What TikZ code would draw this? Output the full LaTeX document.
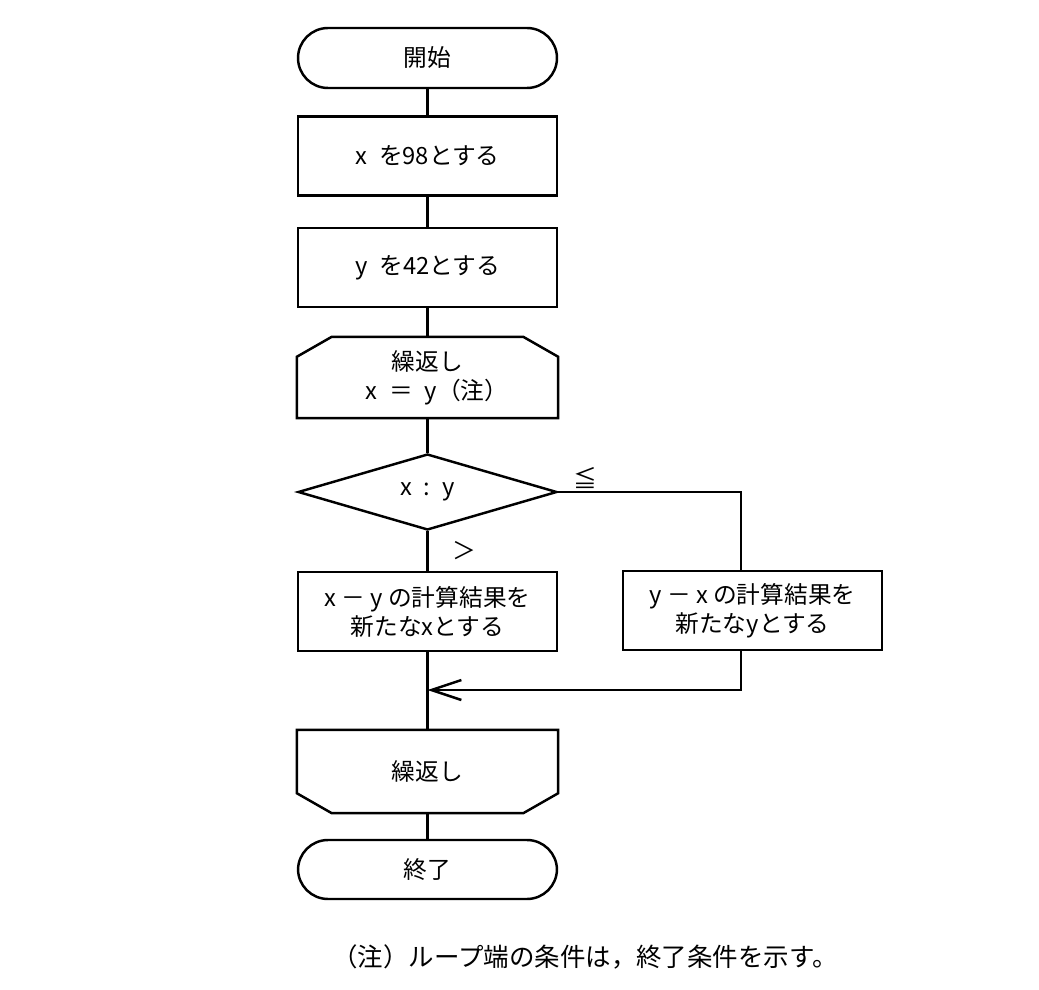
\documentclass[tikz,border=0pt]{standalone}
\usepackage{fontspec}
\setmainfont{Noto Sans CJK JP}
\usetikzlibrary{shapes.geometric,arrows.meta}
\tikzset{
  txt/.style={font=\fontsize{13.5pt}{16.5pt}\selectfont},
  box/.style={txt, draw, line width=1.4pt, minimum width=5.18cm, minimum height=1.58cm, align=center, inner sep=0pt},
  term/.style={box, rounded corners=0.6cm, minimum height=1.2cm},
  loopbox/.style={box, draw=none},
  test/.style={txt, draw, diamond, line width=1.4pt, minimum width=5.18cm, minimum height=1.52cm, inner sep=0pt},
  flow/.style={line width=1.4pt},
}
\begin{document}
\begin{tikzpicture}[x=0.02cm,y=-0.02cm,>={Straight Barb[length=6mm,width=4mm,line width=1.4pt]}]
    \useasboundingbox (0,0) rectangle (1039,990);
    \node[term] (start) at (427.5,58) {開始};
    \node[box] (setx) at (427.5,156) {x\enspace を98とする};
    \node[box] (sety) at (427.5,267.5) {y\enspace を42とする};
    \node[loopbox] (loopa) at (427.5,377.5) {繰返し\\\hspace{0.8em}x\enspace ＝\enspace y（注）};
    \node[test] (cmp) at (427.5,492) {x\enspace :\enspace y};
    \node[box] (calcx) at (427.5,611.5) {x － y の計算結果を\\新たなxとする};
    \node[box] (calcy) at (752.5,610.5) {y － x の計算結果を\\新たなyとする};
    \node[loopbox, minimum height=1.62cm] (loopb) at (427.5,771.5) {繰返し};
    \node[term, minimum height=1.18cm] (stop) at (427.5,869.5) {終了};
    \node[txt, font=\fontsize{14.5pt}{17pt}\selectfont] (note) at (585,957) {（注）ループ端の条件は，終了条件を示す。};
    % loop limit outlines
    \draw[flow] ([xshift=0.7cm]loopa.north west) -- ([xshift=-0.7cm]loopa.north east) -- ([yshift=-0.4cm]loopa.north east)
        -- (loopa.south east) -- (loopa.south west) -- ([yshift=-0.4cm]loopa.north west) -- cycle;
    \draw[flow] (loopb.north west) -- (loopb.north east) -- ([yshift=0.4cm]loopb.south east) -- ([xshift=-0.7cm]loopb.south east)
        -- ([xshift=0.7cm]loopb.south west) -- ([yshift=0.4cm]loopb.south west) -- cycle;
    % connectors
    \draw[flow] (start) -- (setx);
    \draw[flow] (setx) -- (sety);
    \draw[flow] (sety) -- (loopa);
    \draw[flow] (loopa) -- (cmp);
    \draw[flow] (cmp) -- (calcx) node[txt, pos=0.5, right=0.35cm] {＞};
    \coordinate (turn) at (741,492);
    \coordinate (merge) at (427.5,690);
    \draw[flow] (cmp.east) -- (turn) -- (turn |- calcy.north);
    \node[txt] (le) at (585,478) {≦};
    \draw[flow, ->] (turn |- calcy.south) -- (turn |- merge) -- (merge);
    \draw[flow] (calcx) -- (loopb);
    \draw[flow] (loopb) -- (stop);
\end{tikzpicture}
\end{document}
